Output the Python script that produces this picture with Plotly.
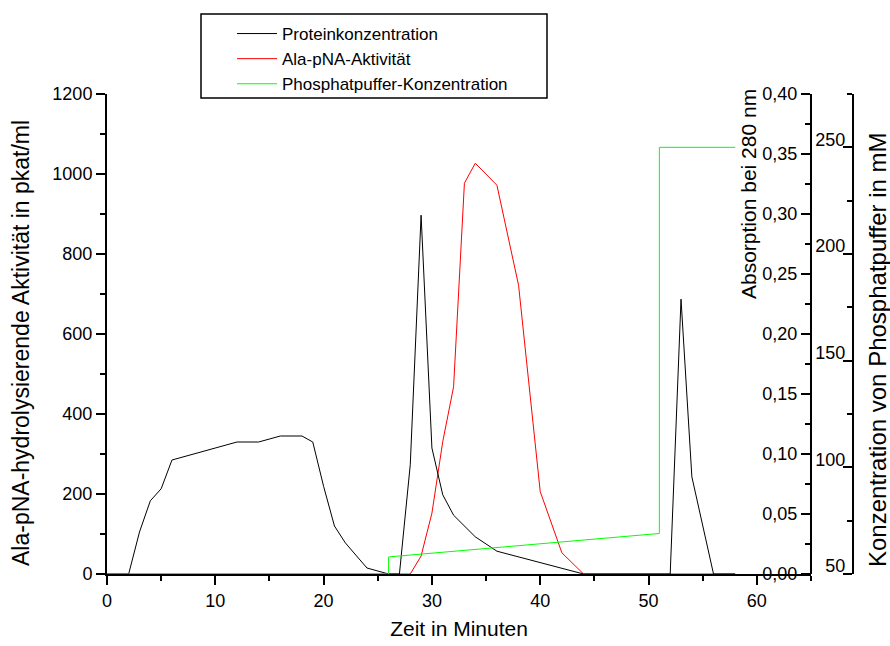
import plotly.graph_objects as go

# ---- data ----
zeit_protein = [0, 2, 3, 4, 5, 6, 12, 14, 16, 18, 19, 20, 21, 22, 24, 26, 27, 28, 29, 30,
                31, 32, 34, 36, 44, 52, 53, 54, 56, 58]
protein = [0, 0, 0.035, 0.061, 0.071, 0.095, 0.110, 0.110, 0.115, 0.115, 0.110, 0.073,
           0.040, 0.026, 0.005, 0, 0, 0.091, 0.299, 0.105, 0.066, 0.049, 0.031, 0.019,
           0, 0, 0.229, 0.081, 0, 0]

zeit_aktivitaet = [0, 28, 29, 30, 31, 32, 33, 34, 36, 38, 40, 42, 44, 58]
aktivitaet = [0, 0, 45, 152, 331, 468, 977, 1027, 972, 722, 206, 53, 0, 0]

zeit_phosphat = [0, 26, 26, 51, 51, 58]
phosphat = [50, 50, 58, 69, 250, 250]

namen = ["Proteinkonzentration", "Ala-pNA-Aktivität", "Phosphatpuffer-Konzentration"]
titel_x = "Zeit in Minuten"
titel_y = "Ala-pNA-hydrolysierende Aktivität in pkat/ml"
titel_y2 = "Absorption bei 280 nm"
titel_y3 = "Konzentration von Phosphatpuffer in mM"

FONT = "Arial, Liberation Sans, sans-serif"
W, H = 890, 646
ML, MR, MT, MB = 107, 0, 94, 72
PW = W - ML - MR
PH = H - MT - MB

def px_x(p):
    return (p - ML) / PW

def px_y(p):
    return (H - MB - p) / PH

fig = go.Figure()
fig.add_trace(go.Scatter(x=zeit_protein, y=protein, mode="lines", name=namen[0],
                         line=dict(color="black", width=1), yaxis="y2"))
fig.add_trace(go.Scatter(x=zeit_aktivitaet, y=aktivitaet, mode="lines", name=namen[1],
                         line=dict(color="#ff0000", width=1), yaxis="y"))
fig.add_trace(go.Scatter(x=zeit_phosphat, y=phosphat, mode="lines", name=namen[2],
                         line=dict(color="#00ff00", width=1), yaxis="y3"))

common = dict(showgrid=False, zeroline=False, showline=True, linecolor="black", linewidth=2,
              tickcolor="black", tickwidth=2, ticklen=9, tickfont=dict(size=18, color="black"),
              layer="below traces")

def minor(dt, t0):
    return dict(ticks="outside", dtick=dt, tick0=t0, ticklen=5, tickwidth=2,
                tickcolor="black", showgrid=False)

def title_ann(text, x, y, size):
    return dict(text=text, xref="paper", yref="paper", x=px_x(x), y=px_y(y),
                xanchor="center", yanchor="middle", textangle=-90, showarrow=False,
                font=dict(size=size, color="black"))

fig.update_layout(
    width=W, height=H,
    margin=dict(l=ML, r=MR, t=MT, b=MB),
    paper_bgcolor="white", plot_bgcolor="white",
    font=dict(family=FONT, color="black"),
    separators=",.",
    showlegend=True,
    xaxis=dict(domain=[0, px_x(811)], range=[0, 65], tick0=0, dtick=10, ticks="outside",
               minor=minor(5, 0),
               title=dict(text=titel_x, font=dict(size=21), standoff=12),
               **common),
    yaxis=dict(range=[0, 1200], tick0=0, dtick=200, ticks="outside",
               minor=minor(100, 0), **common),
    yaxis2=dict(overlaying="y", side="left", anchor="free", position=px_x(811),
                range=[0, 0.40], tick0=0, dtick=0.05, tickformat=".2f", ticks="outside",
                minor=minor(0.025, 0), **common),
    yaxis3=dict(overlaying="y", side="left", anchor="free", position=px_x(853),
                range=[50, 275], tick0=50, dtick=50, ticks="outside",
                ticklabelshift=-8, ticklabelstandoff=-6,
                minor=minor(25, 50), **common),
    annotations=[
        title_ann(titel_y, 21, 343, 23),
        title_ann(titel_y2, 748, 194, 21),
        title_ann(titel_y3, 877, 350, 24),
    ],
    legend=dict(x=px_x(232), y=px_y(16), xanchor="left", yanchor="top",
                bgcolor="rgba(0,0,0,0)", borderwidth=0, font=dict(size=17),
                itemwidth=40),
    shapes=[dict(type="rect", xref="paper", yref="paper",
                 x0=px_x(201), x1=px_x(547), y0=px_y(98), y1=px_y(14),
                 line=dict(color="black", width=1.5), fillcolor="rgba(0,0,0,0)")],
)

fig.write_html("out.html")
